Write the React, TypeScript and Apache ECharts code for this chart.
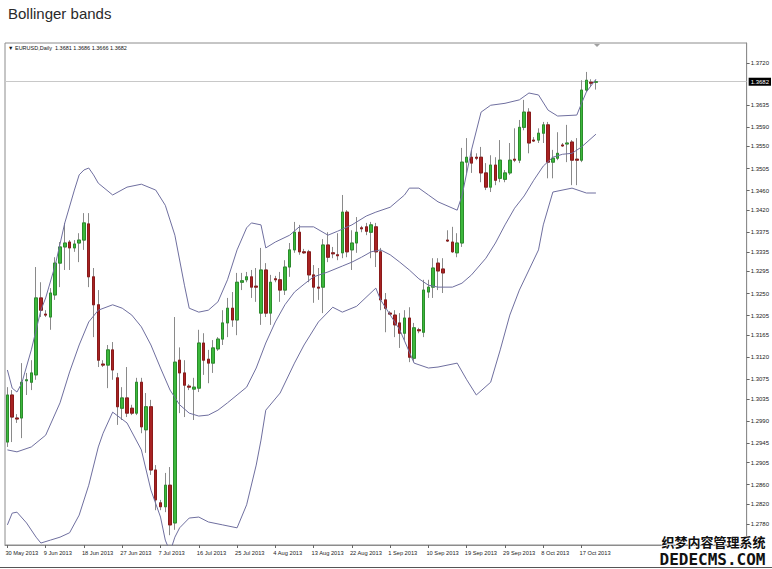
import React, { useEffect, useRef } from 'react';
import * as echarts from 'echarts';

const TITLE = 'Bollinger bands';
const HEADER = '\u25BC EURUSD,Daily  1.3681 1.3686 1.3666 1.3682';
const LAST_PRICE = 1.3682;
const WATERMARK_CN = '织梦内容管理系统';
const WATERMARK_EN = 'DEDECMS.COM';

const BAR_COUNT = 124;
const EMPTY_SLOTS = 31;
const LABEL_EVERY = 8;
const MONTHS = ['Jan', 'Feb', 'Mar', 'Apr', 'May', 'Jun', 'Jul', 'Aug', 'Sep', 'Oct', 'Nov', 'Dec'];

// [open, close, low, high]
const candles: number[][] = [
  [1.2947, 1.3043, 1.2937, 1.3059],
  [1.3043, 1.2998, 1.2947, 1.3053],
  [1.2996, 1.2994, 1.2986, 1.3004],
  [1.2996, 1.3069, 1.2955, 1.3108],
  [1.3072, 1.3074, 1.3043, 1.3088],
  [1.3069, 1.3088, 1.3053, 1.3114],
  [1.3084, 1.3241, 1.3074, 1.3304],
  [1.3241, 1.3216, 1.3202, 1.3273],
  [1.3208, 1.3206, 1.3202, 1.3216],
  [1.3202, 1.3251, 1.3176, 1.3261],
  [1.3247, 1.3312, 1.3237, 1.3324],
  [1.3312, 1.3345, 1.3263, 1.3355],
  [1.3345, 1.3353, 1.3298, 1.3394],
  [1.3355, 1.3343, 1.3298, 1.3359],
  [1.3343, 1.3351, 1.3335, 1.3359],
  [1.3353, 1.3359, 1.3314, 1.3373],
  [1.3359, 1.3394, 1.3339, 1.3414],
  [1.3392, 1.3284, 1.3263, 1.3414],
  [1.3284, 1.3227, 1.3161, 1.3302],
  [1.3227, 1.3114, 1.3100, 1.3257],
  [1.3106, 1.3104, 1.3100, 1.3114],
  [1.3104, 1.3135, 1.3057, 1.3145],
  [1.3135, 1.3094, 1.3074, 1.3151],
  [1.3078, 1.3019, 1.2982, 1.3088],
  [1.3016, 1.3037, 1.2992, 1.3059],
  [1.3037, 1.3006, 1.2998, 1.3100],
  [1.3016, 1.3006, 1.3002, 1.3023],
  [1.3006, 1.3069, 1.3002, 1.3078],
  [1.3069, 1.2978, 1.2965, 1.3078],
  [1.2972, 1.3019, 1.2925, 1.3047],
  [1.3019, 1.2890, 1.2880, 1.3033],
  [1.2890, 1.2829, 1.2808, 1.2900],
  [1.2823, 1.2815, 1.2808, 1.2829],
  [1.2815, 1.2859, 1.2804, 1.2884],
  [1.2859, 1.2778, 1.2757, 1.2896],
  [1.2782, 1.3110, 1.2768, 1.3202],
  [1.3114, 1.3088, 1.3006, 1.3140],
  [1.3088, 1.3063, 1.2998, 1.3114],
  [1.3061, 1.3059, 1.3053, 1.3065],
  [1.3055, 1.3059, 1.2992, 1.3078],
  [1.3057, 1.3149, 1.3049, 1.3176],
  [1.3149, 1.3114, 1.3084, 1.3169],
  [1.3116, 1.3108, 1.3067, 1.3135],
  [1.3108, 1.3139, 1.3088, 1.3155],
  [1.3137, 1.3157, 1.3133, 1.3161],
  [1.3157, 1.3190, 1.3145, 1.3216],
  [1.3190, 1.3220, 1.3161, 1.3241],
  [1.3220, 1.3196, 1.3182, 1.3253],
  [1.3196, 1.3273, 1.3165, 1.3292],
  [1.3273, 1.3276, 1.3257, 1.3292],
  [1.3278, 1.3284, 1.3273, 1.3294],
  [1.3284, 1.3263, 1.3241, 1.3298],
  [1.3265, 1.3263, 1.3233, 1.3302],
  [1.3210, 1.3298, 1.3186, 1.3343],
  [1.3298, 1.3210, 1.3202, 1.3312],
  [1.3210, 1.3273, 1.3186, 1.3288],
  [1.3280, 1.3278, 1.3273, 1.3286],
  [1.3278, 1.3257, 1.3233, 1.3294],
  [1.3257, 1.3304, 1.3247, 1.3318],
  [1.3304, 1.3339, 1.3284, 1.3353],
  [1.3339, 1.3375, 1.3333, 1.3396],
  [1.3375, 1.3335, 1.3329, 1.3390],
  [1.3335, 1.3333, 1.3331, 1.3341],
  [1.3335, 1.3288, 1.3273, 1.3339],
  [1.3288, 1.3263, 1.3231, 1.3308],
  [1.3263, 1.3261, 1.3237, 1.3302],
  [1.3263, 1.3349, 1.3210, 1.3361],
  [1.3349, 1.3324, 1.3314, 1.3375],
  [1.3333, 1.3331, 1.3322, 1.3345],
  [1.3329, 1.3327, 1.3318, 1.3373],
  [1.3333, 1.3416, 1.3322, 1.3451],
  [1.3416, 1.3335, 1.3324, 1.3420],
  [1.3339, 1.3353, 1.3298, 1.3379],
  [1.3353, 1.3375, 1.3333, 1.3406],
  [1.3384, 1.3382, 1.3375, 1.3388],
  [1.3386, 1.3377, 1.3369, 1.3394],
  [1.3375, 1.3390, 1.3322, 1.3396],
  [1.3386, 1.3335, 1.3304, 1.3394],
  [1.3335, 1.3237, 1.3216, 1.3343],
  [1.3237, 1.3220, 1.3171, 1.3251],
  [1.3210, 1.3208, 1.3206, 1.3214],
  [1.3206, 1.3186, 1.3161, 1.3216],
  [1.3190, 1.3169, 1.3139, 1.3210],
  [1.3169, 1.3200, 1.3155, 1.3216],
  [1.3200, 1.3120, 1.3110, 1.3222],
  [1.3118, 1.3180, 1.3110, 1.3190],
  [1.3176, 1.3174, 1.3169, 1.3180],
  [1.3171, 1.3257, 1.3161, 1.3278],
  [1.3253, 1.3263, 1.3241, 1.3278],
  [1.3263, 1.3302, 1.3241, 1.3322],
  [1.3312, 1.3296, 1.3257, 1.3322],
  [1.3300, 1.3292, 1.3251, 1.3322],
  [1.3359, 1.3357, 1.3355, 1.3379],
  [1.3355, 1.3335, 1.3333, 1.3386],
  [1.3333, 1.3353, 1.3324, 1.3373],
  [1.3353, 1.3518, 1.3345, 1.3547],
  [1.3518, 1.3528, 1.3496, 1.3567],
  [1.3528, 1.3516, 1.3496, 1.3543],
  [1.3528, 1.3526, 1.3522, 1.3536],
  [1.3528, 1.3496, 1.3477, 1.3549],
  [1.3496, 1.3467, 1.3461, 1.3516],
  [1.3467, 1.3512, 1.3457, 1.3532],
  [1.3512, 1.3481, 1.3471, 1.3528],
  [1.3485, 1.3522, 1.3477, 1.3563],
  [1.3483, 1.3496, 1.3477, 1.3502],
  [1.3496, 1.3522, 1.3492, 1.3557],
  [1.3524, 1.3522, 1.3518, 1.3587],
  [1.3522, 1.3589, 1.3516, 1.3604],
  [1.3589, 1.3620, 1.3583, 1.3645],
  [1.3620, 1.3557, 1.3536, 1.3628],
  [1.3563, 1.3561, 1.3559, 1.3569],
  [1.3563, 1.3577, 1.3557, 1.3587],
  [1.3577, 1.3594, 1.3557, 1.3600],
  [1.3594, 1.3518, 1.3485, 1.3600],
  [1.3518, 1.3526, 1.3485, 1.3543],
  [1.3526, 1.3536, 1.3522, 1.3579],
  [1.3553, 1.3551, 1.3549, 1.3557],
  [1.3555, 1.3557, 1.3518, 1.3594],
  [1.3559, 1.3522, 1.3471, 1.3563],
  [1.3524, 1.3522, 1.3471, 1.3567],
  [1.3522, 1.3665, 1.3518, 1.3685],
  [1.3665, 1.3685, 1.3661, 1.3702],
  [1.3681, 1.3679, 1.3673, 1.3687],
  [1.3681, 1.3682, 1.3666, 1.3686],
];

// [bar index, value]
const upperBand: number[][] = [
  [0, 1.3094], [1, 1.3057], [2, 1.3049], [3, 1.3067], [5, 1.3135], [7, 1.3216], [8, 1.3241],
  [10, 1.3308], [12, 1.3394], [14, 1.3461], [15, 1.3492], [16, 1.3502], [17, 1.3506], [18, 1.3492],
  [19, 1.3475], [22, 1.3451], [25, 1.3467], [28, 1.3473], [31, 1.3461], [33, 1.3430], [35, 1.3369],
  [37, 1.3267], [38, 1.3220], [40, 1.3212], [42, 1.3216], [44, 1.3233], [46, 1.3278], [48, 1.3339],
  [50, 1.3384], [51, 1.3394], [53, 1.3390], [54, 1.3343], [56, 1.3355], [59, 1.3369], [61, 1.3386],
  [64, 1.3386], [67, 1.3369], [69, 1.3377], [72, 1.3390], [75, 1.3408], [77, 1.3416], [80, 1.3426],
  [83, 1.3451], [84, 1.3465], [86, 1.3465], [88, 1.3451], [90, 1.3437], [94, 1.3420], [95, 1.3449],
  [97, 1.3543], [99, 1.3620], [101, 1.3634], [104, 1.3638], [107, 1.3645], [109, 1.3659], [111, 1.3655],
  [113, 1.3624], [115, 1.3612], [119, 1.3614], [120, 1.3638], [121, 1.3661], [123, 1.3687],
];

const middleBand: number[][] = [
  [0, 1.2931], [2, 1.2927], [5, 1.2937], [8, 1.2961], [11, 1.3027], [13, 1.3090], [15, 1.3145],
  [17, 1.3192], [19, 1.3216], [22, 1.3227], [24, 1.3220], [26, 1.3206], [28, 1.3182], [30, 1.3145],
  [32, 1.3098], [34, 1.3053], [36, 1.3023], [38, 1.3006], [40, 1.3000], [42, 1.3002], [44, 1.3012],
  [46, 1.3027], [48, 1.3043], [50, 1.3059], [52, 1.3098], [54, 1.3149], [56, 1.3192], [58, 1.3227],
  [60, 1.3253], [62, 1.3269], [64, 1.3284], [67, 1.3294], [70, 1.3306], [72, 1.3314], [74, 1.3324],
  [76, 1.3335], [78, 1.3339], [80, 1.3329], [82, 1.3314], [84, 1.3298], [86, 1.3280], [88, 1.3267],
  [90, 1.3263], [93, 1.3263], [95, 1.3271], [97, 1.3288], [100, 1.3322], [102, 1.3353], [104, 1.3390],
  [106, 1.3424], [108, 1.3449], [110, 1.3481], [112, 1.3510], [114, 1.3528], [116, 1.3534], [118, 1.3536],
  [120, 1.3549], [123, 1.3575],
];

const lowerBand: number[][] = [
  [0, 1.2778], [1, 1.2802], [2, 1.2804], [4, 1.2782], [6, 1.2753], [7, 1.2741], [9, 1.2747],
  [11, 1.2753], [13, 1.2762], [15, 1.2798], [17, 1.2859], [19, 1.2937], [20, 1.2965], [22, 1.3008],
  [25, 1.2986], [28, 1.2931], [30, 1.2849], [32, 1.2794], [33, 1.2747], [34, 1.2723], [35, 1.2753],
  [36, 1.2772], [38, 1.2792], [40, 1.2794], [42, 1.2784], [45, 1.2778], [48, 1.2772], [50, 1.2819],
  [52, 1.2900], [53, 1.2951], [54, 1.3012], [57, 1.3047], [60, 1.3108], [62, 1.3145], [65, 1.3192],
  [68, 1.3222], [70, 1.3212], [73, 1.3224], [77, 1.3261], [78, 1.3237], [82, 1.3176], [85, 1.3108],
  [88, 1.3098], [90, 1.3100], [94, 1.3108], [96, 1.3074], [98, 1.3043], [101, 1.3069], [103, 1.3135],
  [105, 1.3206], [107, 1.3257], [109, 1.3298], [111, 1.3339], [112, 1.3390], [114, 1.3457], [118, 1.3465],
  [121, 1.3455], [123, 1.3455],
];

const yTicks = [
  1.2780, 1.2820, 1.2860, 1.2905, 1.2945, 1.2990, 1.3035, 1.3075, 1.3120, 1.3165, 1.3205,
  1.3250, 1.3295, 1.3335, 1.3375, 1.3420, 1.3460, 1.3505, 1.3550, 1.3590, 1.3635, 1.3720,
];
const Y_MIN = 1.2737;
const Y_MAX = 1.3761;

function buildDates(count: number): string[] {
  const out: string[] = [];
  let t = Date.UTC(2013, 4, 30);
  while (out.length < count) {
    const d = new Date(t);
    if (d.getUTCDay() !== 6) {
      out.push(`${d.getUTCDate()} ${MONTHS[d.getUTCMonth()]} ${d.getUTCFullYear()}`);
    }
    t += 86400000;
  }
  return out;
}

const FONT = 'Liberation Sans, Arial, sans-serif';

export default function App() {
  const ref = useRef<HTMLDivElement>(null);
  useEffect(() => {
    if (!ref.current) return;
    const chart = echarts.init(ref.current, undefined, { renderer: 'svg' });
    const dates = buildDates(BAR_COUNT + EMPTY_SLOTS);
    const showIdx = (i: number) => i % LABEL_EVERY === 0 && i < BAR_COUNT;
    const bodies = candles.map(([o, c]) => [o, c, Math.min(o, c), Math.max(o, c)]);
    const bandStyle = { color: '#6f6f9f', width: 1 };
    chart.setOption({
      animation: false,
      backgroundColor: '#ffffff',
      title: {
        text: TITLE,
        left: 3,
        top: 1,
        textStyle: { fontSize: 15, fontWeight: 'normal', color: '#2a2a2a', fontFamily: FONT },
      },
      grid: {
        left: 5,
        right: 25,
        top: 43,
        bottom: 24,
        show: true,
        borderColor: '#8c8c8c',
        borderWidth: 1,
      },
      xAxis: {
        type: 'category',
        data: dates,
        boundaryGap: true,
        axisLine: { show: true, lineStyle: { color: '#8c8c8c' } },
        axisTick: { show: true, alignWithLabel: true, interval: (i: number) => showIdx(i), length: 3, lineStyle: { color: '#666' } },
        axisLabel: {
          interval: (i: number) => showIdx(i),
          align: 'left',
          fontSize: 5.7,
          color: '#222',
          fontFamily: FONT,
          margin: 5,
          padding: [0, 0, 0, -2],
        },
        splitLine: { show: false },
      },
      yAxis: {
        type: 'value',
        position: 'right',
        min: Y_MIN,
        max: Y_MAX,
        scale: true,
        axisLine: { show: true, lineStyle: { color: '#8c8c8c' } },
        axisTick: { show: true, customValues: yTicks, length: 3, lineStyle: { color: '#666' } },
        axisLabel: {
          customValues: yTicks,
          formatter: (v: number) => v.toFixed(4),
          fontSize: 6,
          color: '#222',
          fontFamily: FONT,
          margin: 4,
        },
        splitLine: { show: false },
      },
      series: [
        {
          name: 'wicks',
          type: 'candlestick',
          data: candles,
          barWidth: 3,
          itemStyle: { color: '#8a8a8a', color0: '#8a8a8a', borderColor: '#8a8a8a', borderColor0: '#8a8a8a', borderWidth: 1 },
          z: 2,
        },
        {
          name: 'bodies',
          type: 'candlestick',
          data: bodies,
          barWidth: 3,
          itemStyle: { color: '#3cb83c', color0: '#a82222', borderColor: '#2b8c2b', borderColor0: '#8a1a1a', borderWidth: 1 },
          z: 3,
        },
        {
          name: 'upper',
          type: 'line',
          data: upperBand,
          symbol: 'none',
          lineStyle: bandStyle,
          z: 4,
          clip: true,
          markLine: {
            silent: true,
            precision: 4,
            symbol: ['none', 'none'],
            data: [{ yAxis: LAST_PRICE }],
            lineStyle: { color: '#c8c8c8', width: 1, type: 'solid' },
            label: {
              show: true,
              position: 'end',
              formatter: LAST_PRICE.toFixed(4),
              backgroundColor: '#000',
              color: '#fff',
              fontSize: 6,
              fontFamily: FONT,
              padding: [1, 2],
              distance: 2,
            },
            z: 1,
          },
        },
        { name: 'middle', type: 'line', data: middleBand, symbol: 'none', lineStyle: bandStyle, z: 4, clip: true },
        { name: 'lower', type: 'line', data: lowerBand, symbol: 'none', lineStyle: bandStyle, z: 4, clip: true },
      ],
      graphic: [
        {
          type: 'text',
          left: 8,
          top: 45,
          style: { text: HEADER, fontSize: 5.5, fontFamily: FONT, fill: '#111' },
        },
        {
          type: 'polygon',
          shape: { points: [[594, 44], [600, 44], [597, 47]] },
          style: { fill: '#a0a0a0' },
        },
        {
          type: 'line',
          shape: { x1: 0, y1: 567.5, x2: 772, y2: 567.5 },
          style: { stroke: '#555', lineWidth: 1 },
        },
        {
          type: 'text',
          left: 661,
          top: 534,
          style: { text: WATERMARK_CN, fontSize: 13, fontWeight: 'bold', fontFamily: 'Noto Sans CJK SC', fill: '#111', stroke: '#fff', lineWidth: 1 },
          z: 10,
        },
        {
          type: 'text',
          left: 659,
          top: 551,
          style: { text: WATERMARK_EN, fontSize: 16, fontWeight: 'bold', fontFamily: 'DejaVu Sans Mono', fill: '#111', stroke: '#fff', lineWidth: 1 },
          z: 10,
        },
      ],
    });
    return () => chart.dispose();
  }, []);
  return <div ref={ref} style={{ position: 'fixed', left: 0, top: 0, width: 772, height: 569 }} />;
}
